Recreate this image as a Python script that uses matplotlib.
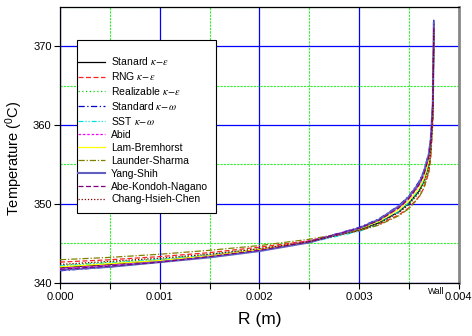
import matplotlib
matplotlib.use("Agg")
import matplotlib.pyplot as plt
from matplotlib.ticker import MultipleLocator, FormatStrFormatter
from matplotlib.font_manager import FontProperties
from matplotlib.patches import Rectangle

plt.rcParams['font.family'] = ['Liberation Sans', 'DejaVu Sans']
plt.rcParams['mathtext.fontset'] = 'custom'
plt.rcParams['mathtext.rm'] = 'Liberation Sans'
plt.rcParams['mathtext.it'] = 'Liberation Sans'

R = [0, 0.0005, 0.001, 0.0015, 0.002, 0.0025, 0.003, 0.0032, 0.0034, 0.0035,
     0.0036, 0.00365, 0.0037, 0.00372, 0.00374, 0.00375]

labels = [r"Stanard $\kappa\!-\!\varepsilon$", r"RNG $\kappa\!-\!\varepsilon$",
          r"Realizable $\kappa\!-\!\varepsilon$", r"Standard $\kappa\!-\!\omega$",
          r"SST $\kappa\!-\!\omega$", "Abid", "Lam-Bremhorst", "Launder-Sharma",
          "Yang-Shih", "Abe-Kondoh-Nagano", "Chang-Hsieh-Chen"]

T_std_ke = [341.9, 342.3, 342.8, 343.4, 344.2, 345.2, 346.7, 347.6, 349.0, 350.1, 351.6, 352.9, 355.0, 357.2, 361.5, 372.0]
T_rng = [342.6, 342.9, 343.3, 343.8, 344.5, 345.3, 346.6, 347.4, 348.6, 349.5, 350.9, 352.0, 354.0, 356.0, 360.5, 371.5]
T_real = [342.2, 342.6, 343.0, 343.6, 344.3, 345.2, 346.7, 347.6, 349.0, 350.0, 351.5, 352.7, 354.8, 357.0, 361.5, 372.0]
T_std_kw = [341.5, 342.0, 342.6, 343.3, 344.1, 345.2, 347.0, 348.1, 349.8, 351.0, 352.8, 354.2, 356.5, 358.5, 363.0, 373.5]
T_sst = [342.1, 342.5, 342.9, 343.5, 344.2, 345.1, 346.5, 347.5, 349.0, 350.2, 351.8, 353.0, 355.2, 357.3, 361.8, 372.5]
T_abid = [341.8, 342.2, 342.7, 343.4, 344.2, 345.3, 346.9, 347.9, 349.5, 350.6, 352.3, 353.6, 355.8, 357.8, 362.2, 372.8]
T_lam = [342.0, 342.4, 342.8, 343.4, 344.2, 345.2, 346.8, 347.8, 349.3, 350.4, 352.0, 353.2, 355.4, 357.4, 361.8, 372.3]
T_ls = [342.9, 343.2, 343.6, 344.1, 344.7, 345.5, 346.6, 347.3, 348.5, 349.4, 350.8, 352.0, 354.2, 356.5, 361.0, 372.0]
T_ys = [341.6, 342.0, 342.6, 343.2, 344.0, 345.1, 346.9, 348.0, 349.7, 350.9, 352.6, 354.0, 356.3, 358.3, 362.8, 373.0]
T_akn = [341.7, 342.1, 342.6, 343.3, 344.1, 345.2, 346.9, 347.9, 349.5, 350.7, 352.4, 353.7, 356.0, 358.0, 362.5, 372.8]
T_chc = [342.3, 342.7, 343.1, 343.6, 344.3, 345.2, 346.6, 347.5, 348.9, 349.9, 351.4, 352.6, 354.6, 356.8, 361.2, 372.0]

series = [T_std_ke, T_rng, T_real, T_std_kw, T_sst, T_abid, T_lam, T_ls, T_ys, T_akn, T_chc]
styles = [
    dict(color='black', ls='-', lw=0.9),
    dict(color='#ff2020', ls=(0, (4, 2)), lw=0.9),
    dict(color='#00cc00', ls=(0, (1, 2)), lw=0.9),
    dict(color='#0000cc', ls=(0, (5, 2, 1, 2)), lw=0.9),
    dict(color='#00e0e0', ls=(0, (4, 1.5, 1, 1.5, 1, 1.5)), lw=0.9),
    dict(color='#ff00ff', ls=(0, (2, 1.5)), lw=0.9),
    dict(color='#ffff00', ls='-', lw=0.9),
    dict(color='#808000', ls=(0, (5, 1.5, 1, 1.5)), lw=0.9),
    dict(color='#6060c0', ls='-', lw=1.5),
    dict(color='#800080', ls=(0, (4, 2)), lw=0.9),
    dict(color='#800000', ls=(0, (1, 1.5)), lw=0.9),
]

fig = plt.figure(figsize=(4.72, 3.36), dpi=100)
ax = fig.add_axes([0.127, 0.159, 0.845, 0.82])

for T, st, lab in zip(series, styles, labels):
    ax.plot(R, T, label=lab, zorder=3, **st)

ax.set_xlim(0, 0.004)
ax.set_ylim(340, 375)
ax.xaxis.set_major_locator(MultipleLocator(0.001))
ax.xaxis.set_minor_locator(MultipleLocator(0.0005))
ax.xaxis.set_major_formatter(FormatStrFormatter('%.3f'))
ax.yaxis.set_major_locator(MultipleLocator(10))
ax.yaxis.set_minor_locator(MultipleLocator(5))

ax.grid(which='major', color='#0000ff', lw=0.9, ls='-', zorder=1)
ax.grid(which='minor', color='#33ee33', lw=0.8, ls=(0, (2, 1)), zorder=1)
ax.set_axisbelow(True)

ax.tick_params(which='major', direction='out', length=4, width=0.8, labelsize=8, colors='black')
ax.tick_params(axis='x', which='minor', direction='out', length=4, width=0.8)
ax.tick_params(axis='y', which='minor', length=0)
ax.tick_params(axis='y', pad=2)
ax.tick_params(axis='x', pad=3)

for s in ['left', 'bottom', 'top']:
    ax.spines[s].set_color('black')
    ax.spines[s].set_linewidth(0.9)
ax.spines['right'].set_color('#888888')
ax.spines['right'].set_linewidth(2)

ax.set_xlabel('R (m)', fontsize=12.5)
ax.xaxis.set_label_coords(0.5, -0.105)
ax.set_ylabel(r'Temperature ($^{0}$C)', fontsize=10.5)
ax.yaxis.set_label_coords(-0.088, 0.45)

ax.annotate('Wall', xy=(0.00377, 0), xycoords=('data', 'axes fraction'),
            xytext=(0, -3), textcoords='offset points', ha='center', va='top',
            fontsize=6.2)

# legend frame
frame = Rectangle((0.0426, 0.252), 0.3485, 0.628, transform=ax.transAxes,
                  facecolor='white', edgecolor='black', lw=0.8, zorder=4)
ax.add_patch(frame)

leg_prop = FontProperties(family=['Liberation Sans', 'DejaVu Sans'], size=7.5,
                          math_fontfamily='stix')
leg = ax.legend(loc='upper left', bbox_to_anchor=(0.045, 0.825), prop=leg_prop,
                frameon=False, handlelength=2.6, handletextpad=0.58,
                labelspacing=0.28, borderpad=0, borderaxespad=0)
leg.set_zorder(5)

fig.savefig('out.png', dpi=100)
